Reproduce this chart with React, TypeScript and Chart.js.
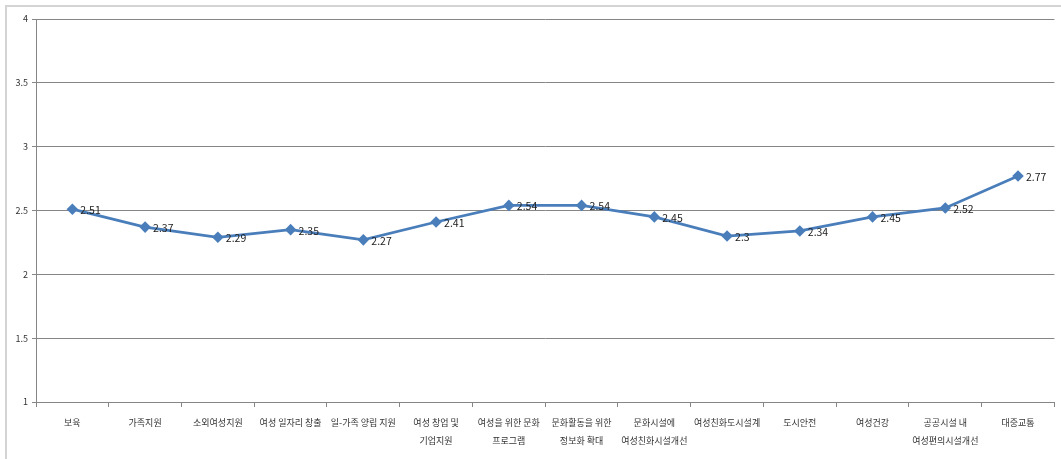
import React, { useEffect, useRef } from "react";
import { Chart, registerables } from "chart.js";

Chart.register(...registerables);

const categories: (string | string[])[] = [
  "보육",
  "가족지원",
  "소외여성지원",
  "여성 일자리 창출",
  "일-가족 양립 지원",
  ["여성 창업 및", "기업지원"],
  ["여성을 위한 문화", "프로그램"],
  ["문화활동을 위한", "정보화 확대"],
  ["문화시설에", "여성친화시설개선"],
  "여성친화도시설계",
  "도시안전",
  "여성건강",
  ["공공시설 내", "여성편의시설개선"],
  "대중교통",
];
const values = [2.51, 2.37, 2.29, 2.35, 2.27, 2.41, 2.54, 2.54, 2.45, 2.3, 2.34, 2.45, 2.52, 2.77];
const labelsText = ["2.51", "2.37", "2.29", "2.35", "2.27", "2.41", "2.54", "2.54", "2.45", "2.3", "2.34", "2.45", "2.52", "2.77"];
const yMin = 1;
const yMax = 4;
const yStep = 0.5;

const FONT = "'Noto Sans CJK KR', 'Noto Sans', sans-serif";

const valueLabelPlugin = {
  id: "valueLabels",
  afterDatasetsDraw(chart: any) {
    const ctx = chart.ctx;
    const meta = chart.getDatasetMeta(0);
    ctx.save();
    ctx.font = `10.5px ${FONT}`;
    ctx.fillStyle = "#222222";
    ctx.textAlign = "left";
    ctx.textBaseline = "middle";
    meta.data.forEach((pt: any, i: number) => {
      ctx.fillText(labelsText[i], pt.x + 8, pt.y + 1);
    });
    ctx.restore();
  },
};

export default function App() {
  const ref = useRef<HTMLCanvasElement>(null);
  useEffect(() => {
    if (!ref.current) return;
    const chart = new Chart(ref.current, {
      type: "line",
      data: {
        labels: categories,
        datasets: [
          {
            data: values,
            borderColor: "#4a7ebb",
            backgroundColor: "#4a7ebb",
            borderWidth: 2.8,
            pointStyle: "rectRot",
            pointRadius: 3.8,
            pointHoverRadius: 3.8,
            tension: 0,
          },
        ],
      },
      options: {
        animation: false,
        responsive: false,
        maintainAspectRatio: false,
        layout: { padding: { top: 19, right: 4, left: 0, bottom: 0 } },
        plugins: { legend: { display: false }, tooltip: { enabled: false } },
        scales: {
          x: {
            offset: true,
            grid: {
              offset: true,
              drawOnChartArea: false,
              drawTicks: true,
              tickLength: 5,
              color: "#868686",
            },
            border: { color: "#868686" },
            ticks: {
              autoSkip: false,
              maxRotation: 0,
              minRotation: 0,
              color: "#333333",
              font: { size: 9, family: FONT, lineHeight: 2 },
              padding: 7,
            },
            afterFit(scale: any) {
              scale.height = 57;
            },
          },
          y: {
            min: yMin,
            max: yMax,
            ticks: {
              stepSize: yStep,
              color: "#333333",
              font: { size: 9, family: FONT },
              padding: 4,
              callback: (v: any) => String(Number(v)),
            },
            grid: { color: "#868686", tickLength: 4 },
            border: { color: "#868686" },
            afterFit(scale: any) {
              scale.width = 36;
            },
          },
        },
      },
      plugins: [valueLabelPlugin],
    });
    return () => chart.destroy();
  }, []);
  return (
    <div style={{ position: "fixed", left: 0, top: 0, width: 1061, height: 459, background: "#fff", overflow: "hidden" }}>
      <div
        style={{
          position: "absolute",
          left: 5,
          top: 5,
          width: 1100,
          height: 500,
          border: "2px solid #d4d4d4",
          boxSizing: "border-box",
        }}
      />
      <canvas ref={ref} width={1061} height={459} style={{ position: "absolute", left: 0, top: 0 }} />
    </div>
  );
}
